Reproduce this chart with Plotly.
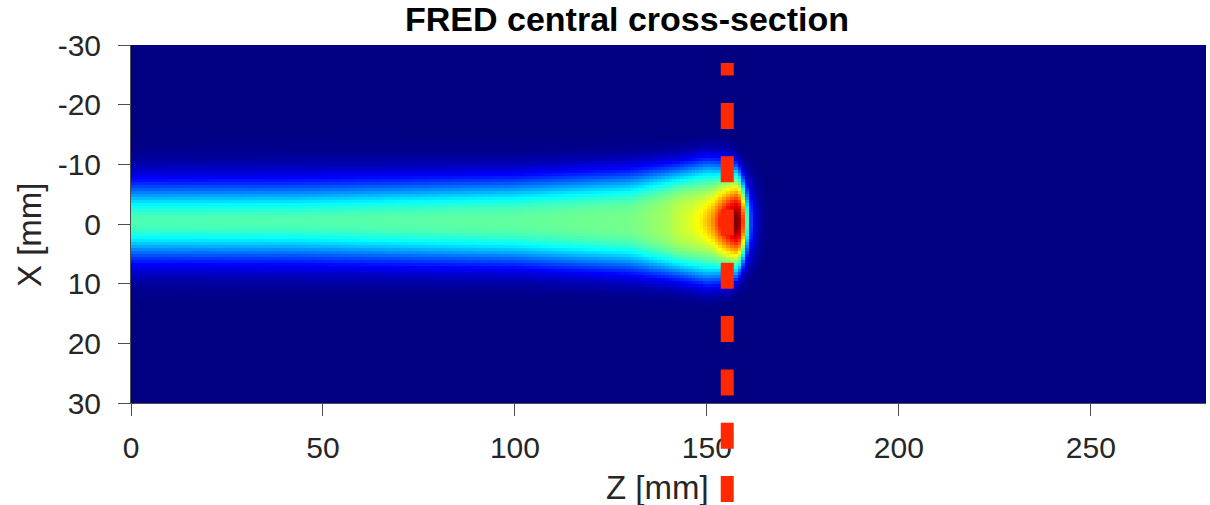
import numpy as np
import plotly.graph_objects as go

# ---- data ----
# broad beam component along depth Z (mm): amplitude, lateral half-width (mm), flatness
ped_z = [0, 43, 100, 130, 143, 150, 157, 280]
ped_amp = [0.45, 0.455, 0.47, 0.49, 0.55, 0.52, 0.50, 0.50]
ped_width = [6.3, 6.4, 7.0, 8.0, 9.0, 10.0, 9.6, 9.6]
ped_shape = [2.0, 2.0, 2.4, 2.8, 3.5, 4.0, 4.0, 4.0]
# narrow Bragg-peak core along depth: amplitude and lateral sigma (mm)
core_z = [0, 140, 143, 146, 148.3, 151, 153, 155, 157, 158, 280]
core_amp = [0.0, 0.0, 0.02, 0.06, 0.11, 0.20, 0.30, 0.42, 0.50, 0.52, 0.52]
core_sigma_z = [0, 150, 157, 280]
core_sigma = [3.0, 3.0, 4.0, 4.0]
# distal fall-off of the dose past the peak
distal_z = [0, 158, 159, 159.5, 160, 160.6, 161.2, 162, 163, 164, 165.5, 167, 280]
distal = [1.0, 1.0, 0.92, 0.80, 0.62, 0.40, 0.22, 0.12, 0.06, 0.03, 0.01, 0.0, 0.0]
beam_centre = -0.4      # lateral offset of the beam axis (mm)
edge_curvature = 0.02   # distal edge pull-back with lateral distance (mm per mm^2)

z_centres = np.arange(0, 280, 1.0) + 0.5       # 1 mm voxels along Z
x_centres = np.arange(-30, 30, 0.5) + 0.25     # 0.5 mm voxels along X

x_ticks = [0, 50, 100, 150, 200, 250]
y_ticks = [-30, -20, -10, 0, 10, 20, 30]
marker_z = 155.3   # depth of the dashed marker line

# ---- build the dose map ----
Zg, Xg = np.meshgrid(z_centres, x_centres)
r = Xg - beam_centre
a = np.interp(Zg, ped_z, ped_amp)
w = np.interp(Zg, ped_z, ped_width)
p = np.interp(Zg, ped_z, ped_shape)
c = np.interp(Zg, core_z, core_amp)
s = np.interp(Zg, core_sigma_z, core_sigma)
f = np.interp(Zg + edge_curvature * r ** 2, distal_z, distal)
dose = f * (a * np.exp(-(np.abs(r) / w) ** p) + c * np.exp(-r ** 2 / (2 * s ** 2)))

jet = [
    [0.0, "rgb(0,0,128)"],
    [0.125, "rgb(0,0,255)"],
    [0.375, "rgb(0,255,255)"],
    [0.625, "rgb(255,255,0)"],
    [0.875, "rgb(255,0,0)"],
    [1.0, "rgb(128,0,0)"],
]

fig = go.Figure(go.Heatmap(
    x=z_centres, y=x_centres, z=dose,
    colorscale=jet, zmin=0, zmax=1, showscale=False, hoverinfo="skip",
))

W, H = 1210, 505
L, R, T, B = 131, 4, 45, 102
pw, ph = W - L - R, H - T - B

def px_to_paper_x(px):
    return (px - L) / pw

def px_to_paper_y(py):
    return (H - B - py) / ph

font_family = "Liberation Sans, Arial, Helvetica, sans-serif"
tick_col = "#262626"
line_col = "#4d4d4d"

fig.update_layout(
    width=W, height=H,
    margin=dict(l=L, r=R, t=T, b=B, pad=0),
    paper_bgcolor="white", plot_bgcolor="white",
    font=dict(family=font_family, color=tick_col),
    title=dict(text="<b>FRED central cross-section</b>", x=627 / W, xanchor="center",
               y=1 - 19 / H, yanchor="middle", xref="container", yref="container",
               font=dict(size=34, color="black", family=font_family)),
    showlegend=False,
)
fig.update_xaxes(
    range=[0, 280], tickvals=x_ticks, ticktext=[str(v) for v in x_ticks],
    ticks="outside", ticklen=12, tickwidth=1, tickcolor=line_col,
    showline=True, linecolor=line_col, linewidth=1, mirror=False,
    showgrid=False, zeroline=False, tickfont=dict(size=30, color=tick_col),
    ticklabelstandoff=6,
)
fig.update_yaxes(
    range=[30, -30], tickvals=y_ticks, ticktext=[str(v) for v in y_ticks],
    ticks="outside", ticklen=12, tickwidth=1, tickcolor=line_col,
    showline=True, linecolor=line_col, linewidth=1, mirror=False,
    showgrid=False, zeroline=False, tickfont=dict(size=30, color=tick_col),
    ticklabelstandoff=11,
)

fig.add_annotation(text="Z [mm]", x=px_to_paper_x(657), y=px_to_paper_y(488),
                   xref="paper", yref="paper", showarrow=False, xanchor="center", yanchor="middle",
                   font=dict(size=33, color=tick_col, family=font_family))
fig.add_annotation(text="X [mm]", x=px_to_paper_x(29), y=px_to_paper_y(235), textangle=-90,
                   xref="paper", yref="paper", showarrow=False, xanchor="center", yanchor="middle",
                   font=dict(size=33, color=tick_col, family=font_family))

fig.add_shape(type="line", xref="x", yref="paper",
              x0=marker_z, x1=marker_z, y0=px_to_paper_y(502), y1=px_to_paper_y(63),
              line=dict(color="rgb(255,40,0)", width=13, dash="26px,27.3px"), layer="above")

fig.write_html("out.html")
